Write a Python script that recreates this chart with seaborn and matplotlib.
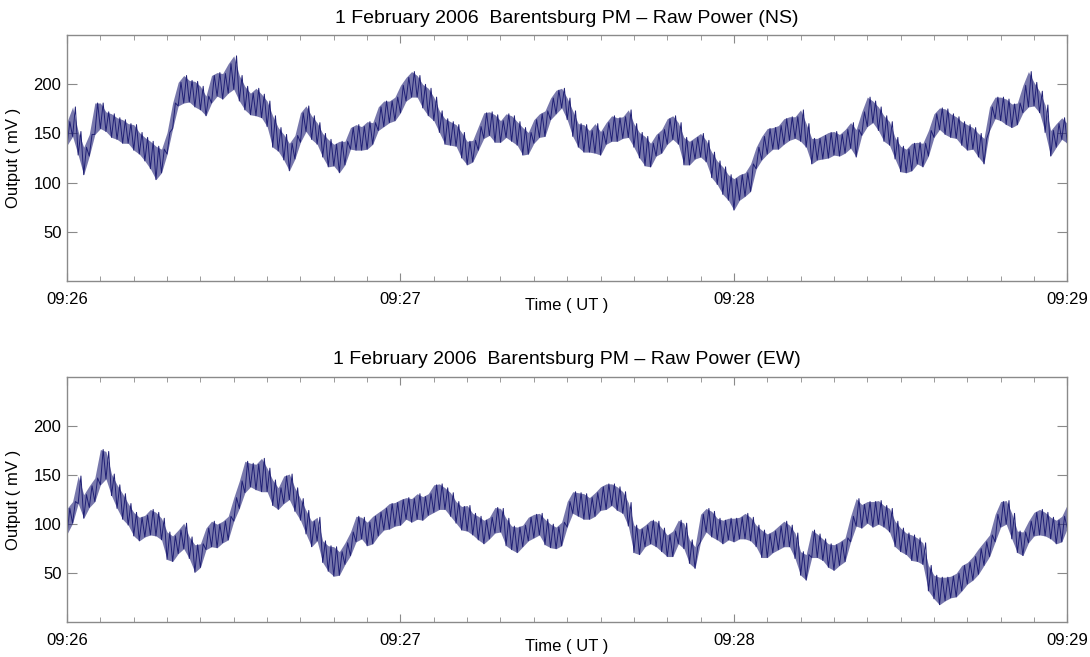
import matplotlib
matplotlib.use("Agg")
import matplotlib.pyplot as plt
import pandas as pd
import seaborn as sns
from matplotlib.ticker import MultipleLocator


# seconds after 09:26:00, one reading per second
NS_MID = [
    150, 162, 140, 122, 138, 165, 168, 162, 158, 155,
    152, 150, 146, 140, 134, 128, 120, 122, 140, 168,
    190, 195, 193, 190, 186, 178, 195, 200, 198, 206,
    212, 196, 186, 180, 182, 178, 170, 152, 144, 136,
    126, 136, 156, 165, 156, 150, 138, 130, 128, 126,
    130, 145, 146, 145, 148, 150, 165, 170, 172, 175,
    185, 195, 200, 198, 188, 182, 175, 162, 152, 150,
    148, 138, 130, 132, 145, 158, 160, 155, 152, 158,
    155, 150, 142, 140, 152, 158, 160, 175, 182, 186,
    175, 160, 148, 145, 142, 145, 140, 150, 155, 154,
    156, 160, 148, 138, 132, 128, 138, 142, 152, 156,
    150, 132, 130, 135, 138, 132, 118, 110, 102, 95,
    88, 95, 98, 105, 125, 135, 142, 145, 146, 152,
    155, 156, 158, 148, 132, 134, 136, 138, 140, 138,
    142, 148, 140, 160, 172, 172, 165, 155, 150, 135,
    124, 122, 126, 130, 128, 140, 158, 165, 162, 158,
    156, 150, 146, 145, 138, 132, 165, 176, 175, 172,
    168, 170, 185, 195, 190, 182, 165, 140, 148, 155,
    150,
]
NS_SPREAD = [
    12, 15, 12, 14, 11, 16, 13, 10, 12, 11,
    12, 10, 13, 11, 12, 14, 17, 12, 11, 13,
    12, 14, 11, 13, 12, 10, 14, 12, 13, 15,
    17, 13, 12, 11, 14, 12, 13, 16, 12, 13,
    14, 12, 15, 13, 12, 11, 12, 14, 11, 16,
    12, 11, 13, 12, 14, 11, 12, 13, 11, 12,
    14, 12, 13, 11, 12, 14, 12, 11, 13, 12,
    11, 13, 12, 11, 12, 13, 12, 14, 11, 12,
    13, 12, 14, 11, 12, 12, 13, 11, 12, 10,
    11, 13, 12, 14, 11, 15, 12, 11, 13, 12,
    11, 14, 12, 13, 15, 12, 11, 12, 13, 12,
    11, 14, 12, 11, 12, 11, 13, 12, 14, 13,
    16, 13, 12, 14, 11, 12, 13, 11, 12, 13,
    12, 11, 16, 12, 13, 11, 12, 13, 12, 11,
    12, 13, 14, 12, 15, 11, 12, 13, 12, 11,
    13, 12, 14, 11, 12, 13, 12, 11, 13, 12,
    11, 12, 13, 11, 12, 13, 12, 11, 12, 13,
    12, 11, 14, 18, 12, 11, 14, 13, 12, 11,
    10,
]

EW_MID = [
    103, 112, 135, 118, 128, 135, 158, 160, 140, 128,
    118, 110, 100, 95, 98, 102, 100, 95, 78, 75,
    82, 88, 76, 65, 68, 85, 90, 88, 92, 96,
    115, 130, 148, 150, 148, 150, 145, 132, 126, 135,
    138, 125, 115, 102, 90, 95, 72, 65, 62, 60,
    70, 80, 95, 96, 90, 94, 100, 105, 108, 110,
    112, 116, 114, 118, 116, 120, 126, 128, 126, 120,
    112, 106, 106, 100, 96, 92, 96, 104, 104, 92,
    86, 84, 88, 95, 98, 100, 92, 88, 86, 90,
    110, 122, 120, 118, 116, 120, 126, 128, 130, 126,
    122, 110, 85, 82, 88, 92, 90, 84, 78, 80,
    92, 88, 72, 66, 96, 104, 100, 95, 92, 95,
    94, 96, 98, 95, 88, 80, 78, 82, 86, 90,
    88, 78, 60, 56, 80, 78, 74, 68, 66, 70,
    74, 95, 112, 108, 112, 110, 112, 108, 104, 90,
    84, 80, 76, 74, 70, 45, 36, 32, 34, 36,
    38, 45, 50, 55, 62, 70, 78, 96, 110, 112,
    98, 82, 80, 92, 100, 102, 100, 96, 92, 95,
    108,
]
EW_SPREAD = [
    13, 11, 14, 12, 11, 12, 18, 14, 11, 12,
    13, 11, 12, 12, 11, 13, 12, 11, 14, 13,
    12, 13, 11, 14, 12, 11, 13, 12, 11, 12,
    12, 14, 16, 12, 13, 17, 12, 13, 11, 14,
    13, 12, 11, 12, 13, 12, 11, 13, 15, 12,
    11, 12, 13, 11, 12, 14, 12, 11, 13, 12,
    13, 11, 12, 13, 12, 11, 14, 13, 11, 12,
    11, 12, 13, 11, 12, 12, 11, 13, 12, 14,
    12, 13, 11, 12, 12, 11, 13, 12, 11, 12,
    13, 11, 12, 13, 11, 12, 12, 13, 11, 12,
    11, 12, 14, 13, 11, 12, 13, 12, 11, 13,
    12, 13, 12, 11, 14, 12, 13, 11, 12, 11,
    12, 11, 13, 12, 11, 14, 12, 11, 12, 13,
    11, 13, 12, 13, 14, 12, 11, 12, 13, 12,
    12, 13, 14, 12, 11, 13, 12, 11, 12, 13,
    12, 11, 13, 12, 11, 13, 12, 14, 12, 11,
    12, 13, 11, 12, 13, 12, 11, 14, 13, 12,
    13, 11, 12, 11, 12, 13, 12, 11, 12, 13,
    12,
]

TICK_SECONDS = [0, 60, 120, 180]
TICK_LABELS = ["09:26", "09:27", "09:28", "09:29"]
Y_TICKS = [50, 100, 150, 200]
TITLES = [
    "1 February 2006  Barentsburg PM \u2013 Raw Power (NS)",
    "1 February 2006  Barentsburg PM \u2013 Raw Power (EW)",
]

LINE_COLOR = "#1f1f75"
FRAME_COLOR = "#8a8a8a"


def trace_frame(mid, spread):
    # the trace swings between the low and high edge inside every second
    t, v = [], []
    for i, (m, s) in enumerate(zip(mid, spread)):
        t += [i, i + 0.5]
        v += [m - s, m + s]
    return pd.DataFrame({"t": t, "mv": v})


def envelope_frame(mid, spread):
    sec = list(range(len(mid)))
    lo = [m - s for m, s in zip(mid, spread)]
    hi = [m + s for m, s in zip(mid, spread)]
    return pd.DataFrame({"t": sec, "lo": lo, "hi": hi})


def draw_panel(ax, mid, spread, title):
    env = envelope_frame(mid, spread)
    ax.fill_between(env["t"], env["lo"], env["hi"], color=LINE_COLOR,
                    alpha=0.6, linewidth=0)
    sns.lineplot(data=trace_frame(mid, spread), x="t", y="mv", ax=ax,
                 color=LINE_COLOR, linewidth=0.7, estimator=None, sort=False)
    ax.set_xlim(0, 180)
    ax.set_ylim(0, 250)
    ax.set_xticks(TICK_SECONDS)
    ax.set_xticklabels(TICK_LABELS)
    ax.xaxis.set_minor_locator(MultipleLocator(6))
    ax.set_yticks(Y_TICKS)
    ax.tick_params(axis="x", which="major", direction="in", length=6,
                   top=True, bottom=True, color=FRAME_COLOR, pad=8,
                   labelsize=12, labelcolor="black")
    ax.tick_params(axis="x", which="minor", direction="in", length=3.5,
                   top=True, bottom=True, color=FRAME_COLOR)
    ax.tick_params(axis="y", which="major", direction="in", length=7,
                   left=True, right=True, color=FRAME_COLOR, pad=4,
                   labelsize=12, labelcolor="black")
    for spine in ax.spines.values():
        spine.set_color(FRAME_COLOR)
        spine.set_linewidth(1.0)
    ax.set_title(title, fontsize=14, pad=9, color="black")
    ax.set_xlabel("Time ( UT )", fontsize=12, color="black")
    ax.xaxis.set_label_coords(0.5, -0.068)
    ax.set_ylabel("Output ( mV )", fontsize=12, color="black")
    ax.yaxis.set_label_coords(-0.046, 0.5)


def main() -> None:
    sns.set_style("white")
    plt.rcParams["font.family"] = ["Liberation Sans", "DejaVu Sans"]

    fig = plt.figure(figsize=(10.9, 6.57), dpi=100)
    ax_ns = fig.add_axes([0.0615, 0.5726, 0.9177, 0.3738])
    ax_ew = fig.add_axes([0.0615, 0.0527, 0.9177, 0.3738])

    draw_panel(ax_ns, NS_MID, NS_SPREAD, TITLES[0])
    draw_panel(ax_ew, EW_MID, EW_SPREAD, TITLES[1])

    fig.savefig("out.png", dpi=100)
    plt.close(fig)


if __name__ == "__main__":
    main()
